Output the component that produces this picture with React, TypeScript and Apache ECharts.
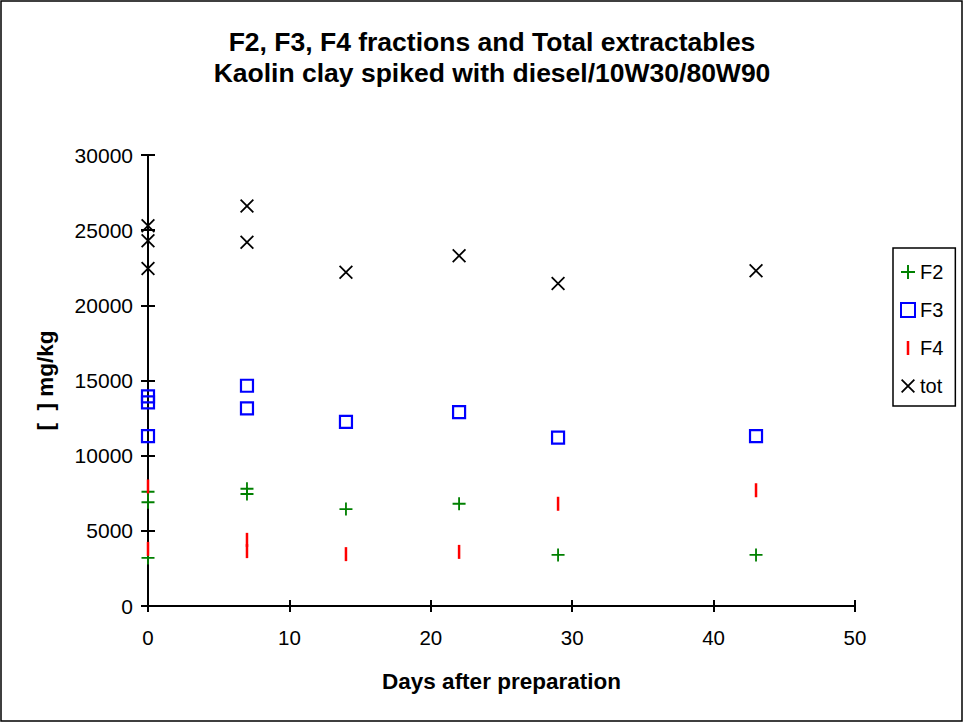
import React, { useEffect, useRef } from "react";
import * as echarts from "echarts";

const f2Data: [number, number][] = [
  [0, 7600], [0, 6900], [0, 3200],
  [7, 7800], [7, 7450],
  [14, 6450], [22, 6800], [29, 3400], [43, 3400],
];
const f3Data: [number, number][] = [
  [0, 13950], [0, 13550], [0, 11300],
  [7, 14650], [7, 13150],
  [14, 12250], [22, 12900], [29, 11200], [43, 11300],
];
const f4Data: [number, number][] = [
  [0, 7950], [0, 3800],
  [7, 4400], [7, 3650],
  [14, 3450], [22, 3600], [29, 6800], [43, 7700],
];
const totData: [number, number][] = [
  [0, 25300], [0, 24300], [0, 22450],
  [7, 26600], [7, 24200],
  [14, 22200], [22, 23300], [29, 21450], [43, 22300],
];

const titleLines = [
  "F2, F3, F4 fractions and Total extractables",
  "Kaolin clay spiked with diesel/10W30/80W90",
];
const xName = "Days after preparation";
const yName = "[  ] mg/kg";

const PLUS = "path://M4.3,0H5.7V10H4.3Z M0,4.3H10V5.7H0Z";
const BAR = "path://M0,0H1.8V10H0Z";
const CROSS = "path://M0,0.9L0.9,0L10,9.1L9.1,10Z M9.1,0L10,0.9L0.9,10L0,9.1Z";

const FONT = "Liberation Sans, Arial, sans-serif";

export default function App() {
  const ref = useRef<HTMLDivElement>(null);
  useEffect(() => {
    if (!ref.current) return;
    const chart = echarts.init(ref.current, undefined, { renderer: "svg" });
    const axisCommon = {
      min: 0,
      splitLine: { show: false },
    };
    const plain = (v: number) => String(v);
    chart.setOption({
      animation: false,
      backgroundColor: "#ffffff",
      textStyle: { fontFamily: FONT },
      title: {
        text: titleLines.join("\n"),
        left: 487,
        top: 21,
        textAlign: "center",
        textStyle: {
          fontFamily: FONT,
          fontSize: 26.5,
          fontWeight: "bold",
          color: "#000",
          lineHeight: 31,
        },
      },
      grid: { left: 148, top: 155, width: 707, height: 451 },
      xAxis: [
        {
          ...axisCommon,
          type: "value",
          max: 50,
          interval: 10,
          position: "bottom",
          axisLine: { onZero: false, lineStyle: { color: "#000", width: 2 } },
          axisTick: { show: true, length: 6, lineStyle: { color: "#000", width: 2 } },
          axisLabel: { color: "#000", fontSize: 20.5, margin: 21, fontFamily: FONT, formatter: plain },
          name: xName,
          nameLocation: "middle",
          nameGap: 64,
          nameTextStyle: { color: "#000", fontSize: 22.5, fontWeight: "bold", fontFamily: FONT },
        },
        {
          ...axisCommon,
          type: "value",
          max: 50,
          interval: 10,
          position: "bottom",
          axisLine: { show: false, onZero: false },
          axisTick: { show: true, inside: true, length: 6, lineStyle: { color: "#000", width: 2 } },
          axisLabel: { show: false },
        },
      ],
      yAxis: [
        {
          ...axisCommon,
          type: "value",
          max: 30000,
          interval: 5000,
          position: "left",
          axisLine: { show: true, onZero: false, lineStyle: { color: "#000", width: 2 } },
          axisTick: { show: true, length: 7, lineStyle: { color: "#000", width: 2 } },
          axisLabel: { color: "#000", fontSize: 21, margin: 15, fontFamily: FONT, formatter: plain },
          name: yName,
          nameLocation: "middle",
          nameGap: 91,
          nameRotate: 90,
          nameTextStyle: { color: "#000", fontSize: 22.5, fontWeight: "bold", fontFamily: FONT },
        },
        {
          ...axisCommon,
          type: "value",
          max: 30000,
          interval: 5000,
          position: "left",
          axisLine: { show: false, onZero: false },
          axisTick: { show: true, inside: true, length: 7, lineStyle: { color: "#000", width: 2 } },
          axisLabel: { show: false },
        },
      ],
      legend: {
        orient: "vertical",
        left: 893,
        top: 248,
        padding: [14, 12, 10, 7],
        itemGap: 18,
        itemWidth: 14,
        itemHeight: 14,
        itemTextGap: 8,
        borderColor: "#000",
        borderWidth: 1.5,
        borderRadius: 0,
        textStyle: { color: "#000", fontSize: 20, fontFamily: FONT, lineHeight: 20 },
        data: [
          { name: "F2", icon: PLUS, itemStyle: { color: "#008000" } },
          {
            name: "F3",
            icon: "rect",
            itemStyle: { color: "rgba(0,0,0,0)", borderColor: "#0000ff", borderWidth: 2 },
          },
          { name: "F4", icon: BAR, itemStyle: { color: "#ff0000" } },
          { name: "tot", icon: CROSS, itemStyle: { color: "#000000" } },
        ],
      },
      graphic: [
        {
          type: "rect",
          shape: { x: 1, y: 1, width: 961, height: 720 },
          style: { fill: "none", stroke: "#000", lineWidth: 1.5 },
          silent: true,
        },
      ],
      series: [
        {
          name: "F2",
          type: "scatter",
          data: f2Data,
          symbol: PLUS,
          symbolSize: 13,
          itemStyle: { color: "#008000", opacity: 1 },
        },
        {
          name: "F3",
          type: "scatter",
          data: f3Data,
          symbol: "rect",
          symbolSize: 12,
          itemStyle: {
            color: "rgba(0,0,0,0)",
            borderColor: "#0000ff",
            borderWidth: 2.2,
            opacity: 1,
          },
        },
        {
          name: "F4",
          type: "scatter",
          data: f4Data,
          symbol: BAR,
          symbolSize: [2.5, 14],
          itemStyle: { color: "#ff0000", opacity: 1 },
        },
        {
          name: "tot",
          type: "scatter",
          data: totData,
          symbol: CROSS,
          symbolSize: 14,
          itemStyle: { color: "#000000", opacity: 1 },
        },
      ],
    });
    return () => chart.dispose();
  }, []);
  return (
    <div
      ref={ref}
      style={{ position: "fixed", left: 0, top: 0, width: 964, height: 723 }}
    />
  );
}
